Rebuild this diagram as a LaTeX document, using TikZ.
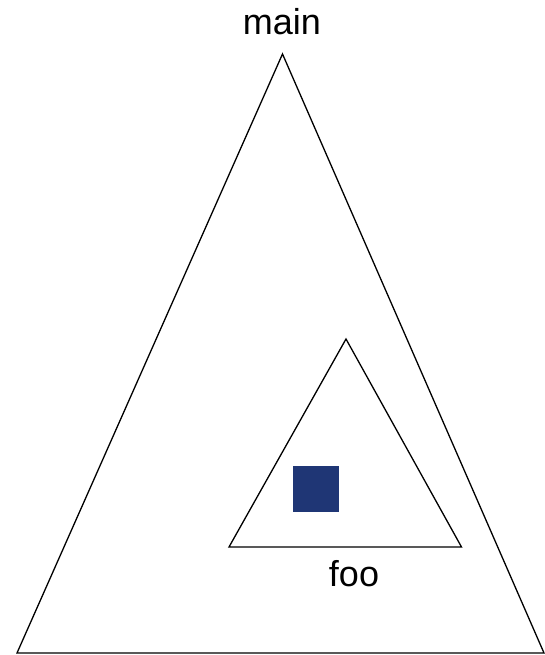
\documentclass[tikz,border=0pt]{standalone}
\usepackage{fontspec}
\setmainfont{Liberation Sans}
\definecolor{sq}{HTML}{1F3675}
\begin{document}
\begin{tikzpicture}[x=1pt,y=-1pt,
  tri/.style={draw=black,line width=1.3pt,line join=miter},
  lbl/.style={font=\fontsize{36}{42}\selectfont,inner sep=0pt}]
\useasboundingbox (0,0) rectangle (545,655);
\coordinate (A) at (282.5,54);
\coordinate (B) at (17,653);
\coordinate (C) at (544,653);
\draw[tri] (A) -- (B) -- (C) -- cycle;
\coordinate (a) at (346,339);
\coordinate (b) at (229,547);
\coordinate (c) at (461.5,547);
\draw[tri] (a) -- (b) -- (c) -- cycle;
\node[fill=sq,minimum size=46pt,inner sep=0pt] (sqr) at (316,488.5) {};
\node[lbl] (main) at (282,22) {main};
\node[lbl] (foo) at (354,574) {foo};
\end{tikzpicture}
\end{document}
